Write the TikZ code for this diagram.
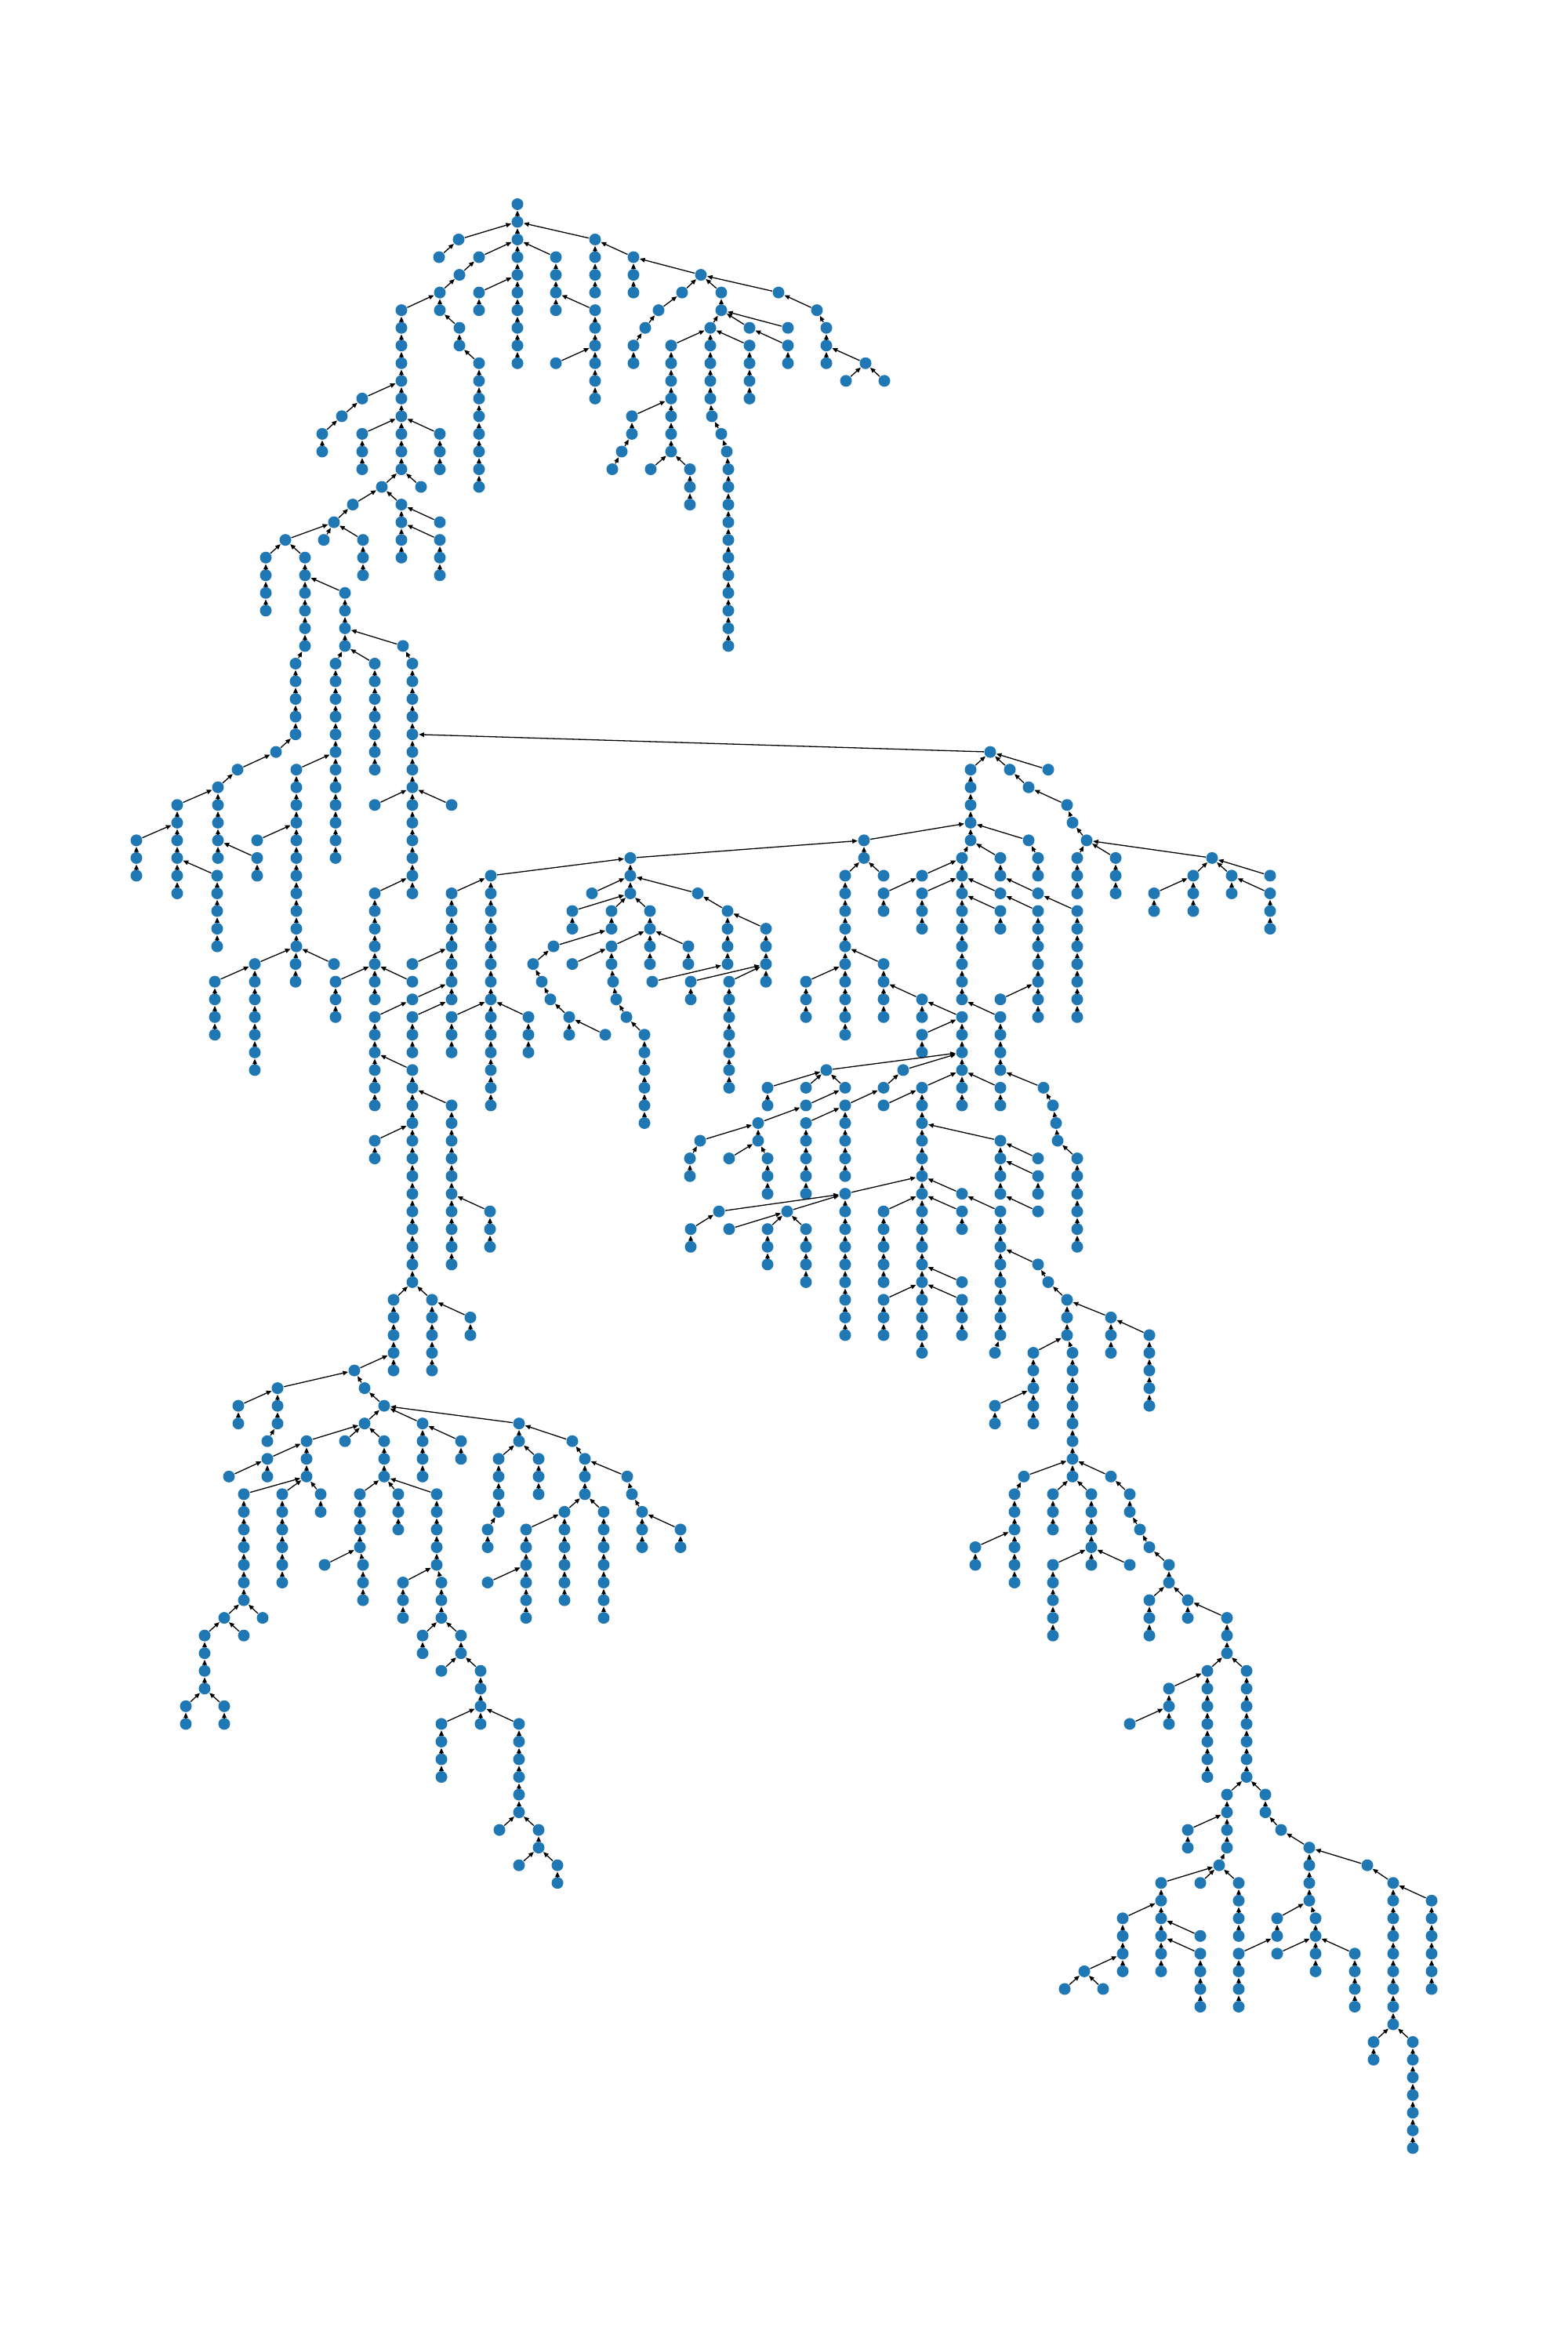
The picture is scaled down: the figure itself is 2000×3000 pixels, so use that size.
\documentclass[tikz,border=0pt]{standalone}
\usetikzlibrary{arrows.meta}
\definecolor{nb}{HTML}{1F77B4}
\newcommand\TchN[5]{\foreach \r in {#2,...,#3}{\node[nd] (n#1r\r) at (#1,{260.4+22.54*\r}) {};}}
\newcommand\TchE[5]{%
  \ifnum#4>0 \draw[ed] (n#1r#2) -- (n#4r#5);\fi
  \ifnum#3>#2 \foreach \r in {#2,...,#3}{\ifnum\r>#2 \pgfmathtruncatemacro\p{\r-1}\draw[ed] (n#1r\r) -- (n#1r\p);\fi}\fi}
\newcommand\treedata{%
\Tch{660}{0}{9}{0}{0}
\Tch{585}{2}{2}{660}{1}
\Tch{560}{3}{3}{585}{2}
\Tch{611}{3}{3}{660}{2}
\Tch{586}{4}{4}{611}{3}
\Tch{561}{5}{6}{586}{4}
\Tch{512}{6}{15}{561}{5}
\Tch{586}{7}{8}{561}{6}
\Tch{611}{9}{16}{586}{8}
\Tch{611}{5}{6}{660}{4}
\Tch{709}{3}{6}{660}{2}
\Tch{759}{2}{5}{660}{1}
\Tch{759}{6}{11}{709}{5}
\Tch{709}{9}{9}{759}{8}
\Tch{808}{3}{5}{759}{2}
\Tch{894}{4}{4}{808}{3}
\Tch{870}{5}{5}{894}{4}
\Tch{840}{6}{6}{870}{5}
\Tch{823}{7}{7}{840}{6}
\Tch{808}{8}{9}{823}{7}
\Tch{920}{5}{6}{894}{4}
\Tch{993}{5}{5}{894}{4}
\Tch{1042}{6}{6}{993}{5}
\Tch{1054}{7}{9}{1042}{6}
\Tch{1104}{9}{9}{1054}{8}
\Tch{1079}{10}{10}{1104}{9}
\Tch{1128}{10}{10}{1104}{9}
\Tch{906}{7}{11}{920}{6}
\Tch{908}{12}{12}{906}{11}
\Tch{920}{13}{13}{908}{12}
\Tch{927}{14}{14}{920}{13}
\Tch{929}{15}{25}{927}{14}
\Tch{856}{8}{14}{906}{7}
\Tch{806}{12}{13}{856}{11}
\Tch{793}{14}{14}{806}{13}
\Tch{781}{15}{15}{793}{14}
\Tch{830}{15}{15}{856}{14}
\Tch{880}{15}{17}{856}{14}
\Tch{956}{7}{7}{920}{6}
\Tch{1005}{8}{9}{956}{7}
\Tch{956}{8}{11}{906}{7}
\Tch{1005}{7}{7}{920}{6}
\Tch{462}{11}{11}{512}{10}
\Tch{436}{12}{12}{462}{11}
\Tch{411}{13}{14}{436}{12}
\Tch{462}{13}{15}{512}{12}
\Tch{561}{13}{15}{512}{12}
\Tch{487}{16}{16}{512}{15}
\Tch{537}{16}{16}{512}{15}
\Tch{450}{17}{17}{487}{16}
\Tch{512}{17}{20}{487}{16}
\Tch{426}{18}{18}{450}{17}
\Tch{561}{18}{18}{512}{17}
\Tch{561}{19}{21}{512}{18}
\Tch{364}{19}{19}{426}{18}
\Tch{413}{19}{19}{426}{18}
\Tch{463}{19}{21}{426}{18}
\Tch{339}{20}{23}{364}{19}
\Tch{389}{20}{25}{364}{19}
\Tch{440}{22}{25}{389}{21}
\Tch{514}{25}{25}{440}{24}
\Tch{377}{26}{30}{389}{25}
\Tch{428}{26}{37}{440}{25}
\Tch{478}{26}{32}{440}{25}
\Tch{526}{26}{39}{514}{25}
\Tch{352}{31}{31}{377}{30}
\Tch{303}{32}{32}{352}{31}
\Tch{278}{33}{37}{303}{32}
\Tch{226}{34}{39}{278}{33}
\Tch{174}{36}{38}{226}{35}
\Tch{277}{38}{42}{226}{37}
\Tch{328}{36}{36}{378}{35}
\Tch{328}{37}{38}{278}{36}
\Tch{378}{32}{42}{428}{31}
\Tch{325}{43}{49}{378}{42}
\Tch{274}{44}{47}{325}{43}
\Tch{377}{43}{44}{378}{42}
\Tch{426}{43}{43}{378}{42}
\Tch{478}{34}{34}{526}{33}
\Tch{576}{34}{34}{526}{33}
\Tch{478}{39}{45}{526}{38}
\Tch{428}{44}{46}{478}{43}
\Tch{526}{44}{44}{478}{43}
\Tch{526}{45}{45}{576}{44}
\Tch{478}{46}{51}{526}{45}
\Tch{526}{49}{61}{478}{48}
\Tch{576}{51}{60}{526}{50}
\Tch{478}{53}{54}{526}{52}
\Tch{526}{46}{48}{576}{45}
\Tch{576}{39}{45}{626}{38}
\Tch{526}{43}{43}{576}{42}
\Tch{576}{46}{48}{626}{45}
\Tch{626}{38}{51}{804}{37}
\Tch{674}{46}{48}{626}{45}
\Tch{730}{40}{41}{804}{39}
\Tch{706}{42}{42}{780}{41}
\Tch{730}{43}{43}{780}{42}
\Tch{680}{43}{43}{706}{42}
\Tch{691}{44}{44}{680}{43}
\Tch{702}{45}{45}{691}{44}
\Tch{726}{46}{47}{702}{45}
\Tch{772}{47}{47}{726}{46}
\Tch{625}{57}{59}{576}{56}
\Tch{502}{62}{66}{526}{61}
\Tch{551}{62}{66}{526}{61}
\Tch{600}{63}{64}{551}{62}
\Tch{452}{66}{66}{502}{65}
\Tch{354}{67}{69}{452}{66}
\Tch{304}{68}{69}{354}{67}
\Tch{341}{70}{70}{354}{69}
\Tch{465}{67}{67}{452}{66}
\Tch{490}{68}{68}{465}{67}
\Tch{465}{69}{69}{490}{68}
\Tch{539}{69}{72}{490}{68}
\Tch{588}{70}{71}{539}{69}
\Tch{662}{69}{70}{490}{68}
\Tch{391}{70}{72}{465}{69}
\Tch{440}{70}{70}{465}{69}
\Tch{490}{70}{72}{465}{69}
\Tch{341}{71}{72}{391}{70}
\Tch{292}{72}{72}{341}{71}
\Tch{311}{73}{79}{391}{72}
\Tch{360}{73}{78}{391}{72}
\Tch{409}{73}{74}{391}{72}
\Tch{286}{80}{80}{311}{79}
\Tch{335}{80}{80}{311}{79}
\Tch{261}{81}{84}{286}{80}
\Tch{311}{81}{81}{286}{80}
\Tch{237}{85}{86}{261}{84}
\Tch{286}{85}{86}{261}{84}
\Tch{459}{73}{76}{490}{72}
\Tch{414}{77}{77}{459}{76}
\Tch{463}{77}{79}{459}{76}
\Tch{508}{73}{75}{490}{72}
\Tch{557}{73}{77}{490}{72}
\Tch{514}{78}{80}{557}{77}
\Tch{563}{78}{80}{557}{77}
\Tch{539}{81}{82}{563}{80}
\Tch{588}{81}{82}{563}{80}
\Tch{563}{83}{83}{588}{82}
\Tch{613}{83}{86}{588}{82}
\Tch{563}{86}{89}{613}{85}
\Tch{662}{86}{91}{613}{85}
\Tch{637}{92}{92}{662}{91}
\Tch{687}{92}{93}{662}{91}
\Tch{662}{94}{94}{687}{93}
\Tch{711}{94}{95}{687}{93}
\Tch{636}{71}{74}{662}{70}
\Tch{622}{75}{76}{636}{74}
\Tch{687}{71}{73}{662}{70}
\Tch{730}{70}{70}{662}{69}
\Tch{746}{71}{73}{730}{70}
\Tch{720}{74}{79}{746}{73}
\Tch{671}{75}{80}{720}{74}
\Tch{622}{78}{78}{671}{77}
\Tch{770}{74}{80}{746}{73}
\Tch{800}{72}{72}{746}{71}
\Tch{806}{73}{73}{800}{72}
\Tch{819}{74}{76}{806}{73}
\Tch{868}{75}{76}{819}{74}
\Tch{1263}{31}{31}{526}{30}
\Tch{1238}{32}{36}{1263}{31}
\Tch{1288}{32}{32}{1263}{31}
\Tch{1337}{32}{32}{1263}{31}
\Tch{1312}{33}{33}{1288}{32}
\Tch{1361}{34}{34}{1312}{33}
\Tch{1368}{35}{35}{1361}{34}
\Tch{1386}{36}{36}{1368}{35}
\Tch{1312}{36}{36}{1238}{35}
\Tch{1324}{37}{38}{1312}{36}
\Tch{1374}{37}{39}{1386}{36}
\Tch{1423}{37}{39}{1386}{36}
\Tch{1546}{37}{37}{1386}{36}
\Tch{1522}{38}{40}{1546}{37}
\Tch{1472}{39}{40}{1522}{38}
\Tch{1571}{38}{39}{1546}{37}
\Tch{1620}{38}{38}{1546}{37}
\Tch{1620}{39}{41}{1571}{38}
\Tch{1102}{36}{37}{1238}{35}
\Tch{1227}{37}{45}{1238}{36}
\Tch{1276}{37}{38}{1238}{36}
\Tch{1078}{38}{47}{1102}{37}
\Tch{1127}{38}{38}{1102}{37}
\Tch{1176}{38}{38}{1227}{37}
\Tch{1127}{39}{40}{1176}{38}
\Tch{1176}{39}{41}{1227}{38}
\Tch{1276}{39}{39}{1227}{38}
\Tch{1276}{40}{41}{1227}{39}
\Tch{1324}{39}{39}{1276}{38}
\Tch{1324}{40}{46}{1276}{39}
\Tch{1374}{40}{46}{1324}{39}
\Tch{1127}{43}{46}{1078}{42}
\Tch{1028}{44}{46}{1078}{43}
\Tch{1176}{45}{46}{1127}{44}
\Tch{1227}{46}{51}{1176}{45}
\Tch{1176}{47}{48}{1227}{46}
\Tch{1276}{46}{49}{1227}{45}
\Tch{1276}{45}{45}{1324}{44}
\Tch{1176}{50}{65}{1227}{49}
\Tch{1276}{50}{51}{1227}{49}
\Tch{1276}{53}{56}{1176}{52}
\Tch{1331}{50}{50}{1276}{49}
\Tch{1343}{51}{51}{1331}{50}
\Tch{1347}{52}{52}{1343}{51}
\Tch{1349}{53}{53}{1347}{52}
\Tch{1374}{54}{59}{1349}{53}
\Tch{1324}{54}{54}{1276}{53}
\Tch{1324}{55}{56}{1276}{54}
\Tch{1324}{57}{57}{1276}{56}
\Tch{1324}{60}{60}{1276}{59}
\Tch{1337}{61}{61}{1324}{60}
\Tch{1361}{62}{64}{1337}{61}
\Tch{1417}{63}{65}{1361}{62}
\Tch{1466}{64}{68}{1417}{63}
\Tch{1318}{65}{69}{1361}{64}
\Tch{1368}{65}{72}{1361}{64}
\Tch{1269}{68}{69}{1318}{67}
\Tch{1306}{72}{72}{1368}{71}
\Tch{1294}{73}{78}{1306}{72}
\Tch{1244}{76}{77}{1294}{75}
\Tch{1343}{73}{75}{1368}{72}
\Tch{1392}{73}{77}{1368}{72}
\Tch{1343}{77}{81}{1392}{76}
\Tch{1441}{77}{77}{1392}{76}
\Tch{1417}{72}{72}{1368}{71}
\Tch{1441}{73}{74}{1417}{72}
\Tch{1454}{75}{75}{1441}{74}
\Tch{1466}{76}{76}{1454}{75}
\Tch{1491}{77}{78}{1466}{76}
\Tch{1466}{79}{81}{1491}{78}
\Tch{1515}{79}{80}{1491}{78}
\Tch{1565}{80}{82}{1515}{79}
\Tch{1540}{83}{89}{1565}{82}
\Tch{1590}{83}{89}{1565}{82}
\Tch{1491}{84}{86}{1540}{83}
\Tch{1441}{86}{86}{1491}{85}
\Tch{1565}{90}{93}{1590}{89}
\Tch{1614}{90}{91}{1590}{89}
\Tch{1515}{92}{93}{1565}{91}
\Tch{1555}{94}{94}{1565}{93}
\Tch{1481}{95}{100}{1555}{94}
\Tch{1531}{95}{95}{1555}{94}
\Tch{1580}{95}{98}{1555}{94}
\Tch{1432}{97}{100}{1481}{96}
\Tch{1531}{98}{98}{1481}{97}
\Tch{1531}{99}{102}{1481}{98}
\Tch{1383}{100}{100}{1432}{99}
\Tch{1358}{101}{101}{1383}{100}
\Tch{1407}{101}{101}{1383}{100}
\Tch{1634}{92}{92}{1614}{91}
\Tch{1670}{93}{96}{1634}{92}
\Tch{1629}{97}{98}{1670}{96}
\Tch{1580}{99}{102}{1629}{98}
\Tch{1678}{97}{100}{1670}{96}
\Tch{1629}{99}{99}{1678}{98}
\Tch{1728}{99}{102}{1678}{98}
\Tch{1744}{94}{94}{1670}{93}
\Tch{1777}{95}{103}{1744}{94}
\Tch{1826}{96}{101}{1777}{95}
\Tch{1752}{104}{105}{1777}{103}
\Tch{1802}{104}{110}{1777}{103}
\Tch{804}{37}{39}{1102}{36}
\Tch{755}{39}{39}{804}{38}
\Tch{890}{39}{39}{804}{38}
\Tch{780}{40}{41}{804}{39}
\Tch{829}{40}{43}{804}{39}
\Tch{780}{42}{43}{829}{41}
\Tch{782}{44}{44}{780}{43}
\Tch{786}{45}{45}{782}{44}
\Tch{799}{46}{46}{786}{45}
\Tch{822}{47}{52}{799}{46}
\Tch{878}{42}{43}{829}{41}
\Tch{928}{40}{43}{890}{39}
\Tch{977}{41}{44}{928}{40}
\Tch{832}{44}{44}{928}{43}
\Tch{881}{44}{45}{977}{43}
\Tch{930}{44}{50}{977}{43}
\Tch{1054}{49}{49}{1227}{48}
\Tch{1152}{49}{49}{1227}{48}
\Tch{979}{50}{51}{1054}{49}
\Tch{1028}{50}{50}{1054}{49}
\Tch{1078}{50}{50}{1054}{49}
\Tch{1127}{50}{50}{1152}{49}
\Tch{1127}{51}{51}{1176}{50}
\Tch{1028}{51}{51}{1078}{50}
\Tch{1078}{51}{55}{1127}{50}
\Tch{967}{52}{53}{1028}{51}
\Tch{1028}{52}{56}{1078}{51}
\Tch{893}{53}{53}{967}{52}
\Tch{880}{54}{55}{893}{53}
\Tch{979}{54}{56}{967}{53}
\Tch{930}{54}{54}{967}{53}
\Tch{1078}{56}{64}{1176}{55}
\Tch{917}{57}{57}{1078}{56}
\Tch{1004}{57}{57}{1078}{56}
\Tch{881}{58}{59}{917}{57}
\Tch{930}{58}{58}{1004}{57}
\Tch{979}{58}{60}{1004}{57}
\Tch{1028}{58}{61}{1004}{57}
\Tch{1227}{56}{56}{1176}{55}
\Tch{1127}{57}{61}{1176}{56}
\Tch{1227}{57}{58}{1176}{56}
\Tch{1227}{61}{61}{1176}{60}
\Tch{1127}{62}{64}{1176}{61}
\Tch{1227}{62}{64}{1176}{61}
\Tch{1276}{57}{64}{1227}{56}
\Tch{1269}{65}{65}{1276}{64}
}
\begin{document}
\begin{tikzpicture}[x=0.01cm,y=-0.01cm,
  nd/.style={circle,fill=nb,draw=none,inner sep=0pt,minimum size=0.15cm},
  ed/.style={draw=black,line width=0.37pt,-{Triangle[length=1.9pt,width=1.6pt]}}]
\fill[white] (0,0) rectangle (2000,3000);
\path[use as bounding box] (0,0) rectangle (2000,3000);
\let\Tch\TchN
\treedata
\let\Tch\TchE
\treedata
\end{tikzpicture}
\end{document}
